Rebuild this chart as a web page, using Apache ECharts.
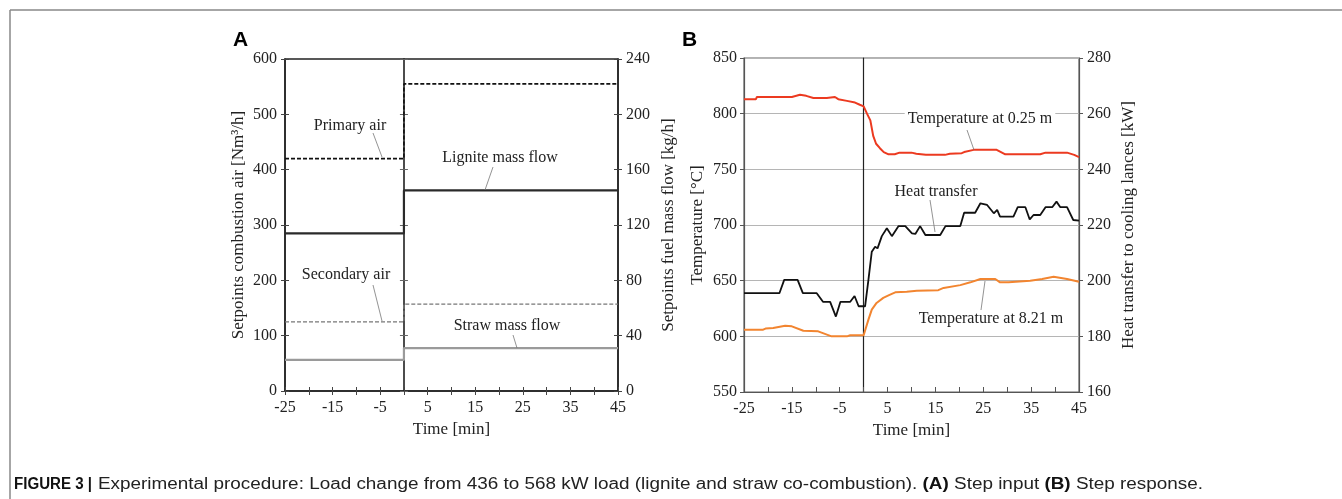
<!DOCTYPE html>
<html><head><meta charset="utf-8">
<script src="https://cdn.jsdelivr.net/npm/echarts@6/dist/echarts.min.js"></script>
<style>html,body{margin:0;padding:0;background:#fff}#c{width:1342px;height:499px}</style>
</head><body><div id="c"></div>
<script>
// ---------- DATA ----------
const timeLabels = [-25, -15, -5, 5, 15, 25, 35, 45];
// Panel A: setpoints before / after the load change at t = 0
const primaryAir   = [420, 555];   // Nm3/h
const secondaryAir = [125, 157];   // Nm3/h
const ligniteFlow  = [114, 145];   // kg/h
const strawFlow    = [22.5, 31];   // kg/h

// Panel B: temperature at 0.25 m (°C)
const t025Time  = [-25,-22.5,-22.3,-15,-13.3,-12,-10.5,-7.7,-7.3,-6,-5.3,-3.5,-1.8,-0.8,0,0.7,1.4,2,2.6,3.4,4.2,5.2,6.5,7.5,10,11,13,17,18,20.5,21,23,27.8,29.6,36.9,38,42.5,44,45];
const t025Value = [813,813,815,815,817,816,814,814,815,815,813,811.5,810,808,806.5,800,794,780,773,769,765.5,763.5,763.5,765,765,764,763,763,764,764.5,765.5,767.5,767.5,763.5,763.5,765,765,763,761];
// Panel B: temperature at 8.21 m (°C)
const t821Time  = [-25,-21,-20.5,-18.9,-16.4,-15,-12.6,-9.5,-6.7,-3.5,-2.8,0,1,1.7,2.7,4.1,5.3,6.6,9,11.1,15.6,16.7,20.2,22.3,24.4,27.5,28.5,30.3,30.6,34.8,37.3,39.7,42.5,45];
const t821Value = [606,606,607,607.5,609.5,609,605,604.5,600,600,601,601,615,624,630,634.5,637,639.5,640,641,641.5,643.5,646,648.5,651.5,651.5,648.5,648.5,650,650,651.5,653.5,651.5,649];
// Panel B: heat transfer to cooling lances (kW)
const heatTime  = [-25,-17.6,-16.6,-13.8,-12.7,-9.8,-8.5,-7,-5.8,-4.85,-2.8,-1.9,-1.05,0.3,1,1.7,2.4,2.9,3.8,4.85,5.9,7.3,8.7,10.1,10.8,11.8,12.9,16,17.1,20.2,21,23.3,24.4,25.8,27.2,27.9,28.5,31.3,32.2,33.8,34.7,35.5,36.9,38,39.4,40.3,41.1,42.5,43.8,45];
const heatValue = [195.5,195.5,200.3,200.3,195.5,195.5,192.4,192.4,187.1,192.4,192.4,194.5,190.8,190.8,200.3,210.4,212.2,211.6,216,218.8,216,219.6,219.6,217,216.8,219.6,216.4,216.4,219.6,219.6,224.4,224.4,227.8,227.2,224.2,225.4,223,223,226.4,226.4,222,223.6,223.6,226.4,226.4,228.4,226.4,226.4,221.8,221.6];

// caption pieces: [text, bold]
const captionLead = 'FIGURE 3 |';
const captionParts = [
  ['Experimental procedure: Load change from 436 to 568 kW load (lignite and straw co-combustion). ', false],
  ['(A)', true], [' Step input ', false], ['(B)', true], [' Step response.', false]
];

// ---------- HELPERS ----------
const SERIF = "'Liberation Serif','Times New Roman',serif";
const SANS = "'Liberation Sans',Arial,sans-serif";
const TXT = '#222';
const stepStart = -25, stepChange = 0, stepEnd = 45;
function stepData(v) { return [[stepStart, v[0]], [stepChange, v[0]], [stepChange, v[1]], [stepEnd, v[1]]]; }
function pairs(t, v) { return t.map((x, i) => [x, v[i]]); }
function timeFmt(v) { return timeLabels.indexOf(v) >= 0 ? String(v) : ''; }

const labelStyle = { fontFamily: SERIF, fontSize: 16, color: TXT };
const nameStyle = { fontFamily: SERIF, fontSize: 17, color: TXT };

function xAx(grid, opts) {
  return Object.assign({
    type: 'value', gridIndex: grid, min: -25, max: 45, interval: 5, position: 'bottom',
    axisLine: { onZero: false, lineStyle: { color: '#222', width: 1.5 } },
    axisTick: { show: true, length: 4, lineStyle: { color: '#444', width: 1 } },
    axisLabel: Object.assign({ formatter: timeFmt, margin: 9 }, labelStyle),
    splitLine: { show: false }
  }, opts);
}
function yAx(grid, pos, min, max, interval, opts) {
  return Object.assign({
    type: 'value', gridIndex: grid, position: pos, min: min, max: max, interval: interval,
    axisLine: { onZero: false, lineStyle: { color: '#222', width: 1.5 } },
    axisTick: { show: true, length: 4, lineStyle: { color: '#444', width: 1 } },
    axisLabel: Object.assign({ margin: 8 }, labelStyle),
    splitLine: { show: false }
  }, opts);
}
const noLabel = { show: false };

const option = {
  animation: false,
  backgroundColor: '#fff',
  grid: [
    { left: 285, top: 59, width: 333, height: 332, show: true, borderColor: '#222', borderWidth: 1.5 },
    { left: 744, top: 58, width: 335, height: 334, show: true, borderColor: '#666', borderWidth: 1.2 }
  ],
  xAxis: [
    xAx(0, { name: 'Time [min]', nameLocation: 'middle', nameGap: 30, nameTextStyle: nameStyle }),
    xAx(0, { axisLine: { show: false, onZero: false }, axisLabel: noLabel, axisTick: { show: true, inside: true, length: 4, lineStyle: { color: '#444' } } }),
    xAx(1, { name: 'Time [min]', nameLocation: 'middle', nameGap: 30, nameTextStyle: nameStyle,
             axisLine: { onZero: false, lineStyle: { color: '#555', width: 1.2 } },
             axisTick: { show: true, inside: true, length: 5, lineStyle: { color: '#555' } } })
  ],
  yAxis: [
    yAx(0, 'left', 0, 600, 100, { name: 'Setpoints combustion air [Nm³/h]', nameLocation: 'middle', nameGap: 38, nameTextStyle: nameStyle }),
    yAx(0, 'right', 0, 240, 40, { name: 'Setpoints fuel mass flow [kg/h]', nameLocation: 'middle', nameGap: 42, nameTextStyle: nameStyle }),
    yAx(0, 'left', 0, 600, 100, { axisLine: { show: false, onZero: false }, axisLabel: noLabel, axisTick: { inside: true, length: 4, lineStyle: { color: '#444' } } }),
    yAx(0, 'right', 0, 240, 40, { axisLine: { show: false, onZero: false }, axisLabel: noLabel, axisTick: { inside: true, length: 4, lineStyle: { color: '#444' } } }),
    yAx(0, 'left', 0, 600, 100, { axisLine: { show: true, onZero: true, onZeroAxisIndex: 0, lineStyle: { color: '#111', width: 1.5 } }, axisLabel: noLabel, axisTick: { inside: true, length: 4, lineStyle: { color: '#666' } } }),
    yAx(0, 'left', 0, 600, 100, { axisLine: { show: false, onZero: true, onZeroAxisIndex: 0 }, axisLabel: noLabel, axisTick: { inside: false, length: 4, lineStyle: { color: '#666' } } }),
    yAx(1, 'left', 550, 850, 50, { name: 'Temperature [°C]', nameLocation: 'middle', nameGap: 38, nameTextStyle: nameStyle,
      axisLine: { onZero: false, lineStyle: { color: '#555', width: 1.2 } },
      axisLabel: Object.assign({ margin: 7 }, labelStyle),
      axisTick: { length: 4, lineStyle: { color: '#555' } },
      splitLine: { show: true, lineStyle: { color: '#b5b5b5', width: 1 } } }),
    yAx(1, 'right', 160, 280, 20, { name: 'Heat transfer to cooling lances [kW]', nameLocation: 'middle', nameGap: 41, nameTextStyle: nameStyle,
      axisLine: { onZero: false, lineStyle: { color: '#555', width: 1.2 } },
      axisTick: { length: 4, lineStyle: { color: '#555' } } }),
    yAx(1, 'left', 550, 850, 50, { axisLine: { show: true, onZero: true, onZeroAxisIndex: 2, lineStyle: { color: '#222', width: 1.2 } }, axisLabel: noLabel, axisTick: { show: false } })
  ],
  series: [
    { name: 'Primary air', type: 'line', xAxisIndex: 0, yAxisIndex: 0, data: stepData(primaryAir), symbol: 'none', z: 5,
      lineStyle: { color: '#111', width: 1.6, type: [4, 2] } },
    { name: 'Secondary air', type: 'line', xAxisIndex: 0, yAxisIndex: 0, data: stepData(secondaryAir), symbol: 'none', z: 5,
      lineStyle: { color: '#777', width: 1.4, type: [4, 2] } },
    { name: 'Lignite mass flow', type: 'line', xAxisIndex: 0, yAxisIndex: 1, data: stepData(ligniteFlow), symbol: 'none', z: 5,
      lineStyle: { color: '#2a2a2a', width: 2.2 } },
    { name: 'Straw mass flow', type: 'line', xAxisIndex: 0, yAxisIndex: 1, data: stepData(strawFlow), symbol: 'none', z: 5,
      lineStyle: { color: '#9a9a9a', width: 2.2 } },
    { name: 'Temperature at 0.25 m', type: 'line', xAxisIndex: 2, yAxisIndex: 6, data: pairs(t025Time, t025Value), symbol: 'none', z: 5,
      lineStyle: { color: '#ec3a20', width: 2 } },
    { name: 'Temperature at 8.21 m', type: 'line', xAxisIndex: 2, yAxisIndex: 6, data: pairs(t821Time, t821Value), symbol: 'none', z: 5,
      lineStyle: { color: '#f28530', width: 2 } },
    { name: 'Heat transfer', type: 'line', xAxisIndex: 2, yAxisIndex: 7, data: pairs(heatTime, heatValue), symbol: 'none', z: 5,
      lineStyle: { color: '#111', width: 1.8 } }
  ],
  graphic: []
};

// annotations (text + leader line)
const notes = [
  { text: 'Primary air', x: 350, y: 126, l: [373, 133, 382, 157], bg: false },
  { text: 'Lignite mass flow', x: 500, y: 158, l: [493, 167, 485, 190], bg: false },
  { text: 'Secondary air', x: 346, y: 275, l: [373, 285, 382, 321], bg: false },
  { text: 'Straw mass flow', x: 507, y: 326, l: [513, 335, 517, 348], bg: false },
  { text: 'Temperature at 0.25 m', x: 980, y: 119, l: [967, 130, 974, 150], bg: true },
  { text: 'Heat transfer', x: 936, y: 192, l: [930, 200, 935, 232], bg: true },
  { text: 'Temperature at 8.21 m', x: 991, y: 319, l: [981, 310, 985, 281], bg: true }
];
notes.forEach(n => {
  option.graphic.push({ type: 'line', silent: true, z: 20,
    shape: { x1: n.l[0], y1: n.l[1], x2: n.l[2], y2: n.l[3] }, style: { stroke: '#777', lineWidth: 0.8 } });
  option.graphic.push({ type: 'text', silent: true, z: 21, x: n.x, y: n.y,
    style: { text: n.text, font: '16px ' + SERIF, fill: TXT, align: 'center', verticalAlign: 'middle',
             backgroundColor: n.bg ? '#fff' : 'transparent', padding: n.bg ? [0, 3] : 0 } });
});
// panel letters
option.graphic.push({ type: 'text', x: 233, y: 40, style: { text: 'A', font: 'bold 21px ' + SANS, fill: '#000', verticalAlign: 'middle' } });
option.graphic.push({ type: 'text', x: 682, y: 40, style: { text: 'B', font: 'bold 21px ' + SANS, fill: '#000', verticalAlign: 'middle' } });
// figure frame
option.graphic.push({ type: 'line', shape: { x1: 10, y1: 10, x2: 1342, y2: 10 }, style: { stroke: '#888', lineWidth: 1.5 } });
option.graphic.push({ type: 'line', shape: { x1: 10, y1: 10, x2: 10, y2: 499 }, style: { stroke: '#888', lineWidth: 1.5 } });

// caption: bold lead, then the rest fitted to the reference's line length
const capFont = 16;
const capRegular = capFont + "px 'Liberation Sans',Arial,sans-serif";
const capBold = 'bold ' + capRegular;
const mctx = document.createElement('canvas').getContext('2d');
let capW = 0;
captionParts.forEach(p => { mctx.font = p[1] ? capBold : capRegular; capW += mctx.measureText(p[0]).width; });
mctx.font = capBold;
const leadW = mctx.measureText(captionLead).width;
const leadStart = 14, leadEnd = 92, capStart = 98, capEnd = 1203;
option.graphic.push({ type: 'text', x: leadStart, y: 485, scaleX: (leadEnd - leadStart) / leadW, style: {
  text: captionLead, font: capBold, fill: '#111', verticalAlign: 'middle' } });
option.graphic.push({ type: 'text', x: capStart, y: 485, scaleX: (capEnd - capStart) / capW, style: {
  text: captionParts.map(p => '{' + (p[1] ? 'b' : 'r') + '|' + p[0] + '}').join(''),
  verticalAlign: 'middle',
  rich: {
    b: { font: capBold, fill: '#111' },
    r: { font: capRegular, fill: '#222' }
  },
  font: capRegular
} });

const chart = echarts.init(document.getElementById('c'), null, { renderer: 'canvas' });
chart.setOption(option);
</script></body></html>
